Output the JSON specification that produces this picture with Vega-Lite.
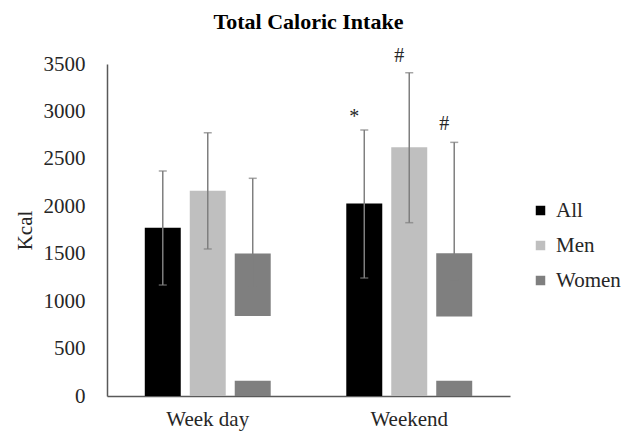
{
  "$schema": "https://vega.github.io/schema/vega-lite/v6.json",
  "width": 403,
  "height": 332,
  "autosize": {"type": "none"},
  "padding": {"left": 107, "top": 64, "right": 113, "bottom": 44},
  "background": "white",
  "title": {
    "text": "Total Caloric Intake",
    "font": "Liberation Serif",
    "fontSize": 22,
    "fontWeight": "bold",
    "color": "#000000",
    "anchor": "middle",
    "offset": 12
  },
  "config": {
    "view": {"stroke": null},
    "font": "Liberation Serif",
    "legend": {"labelFont": "Liberation Serif, Times New Roman, serif", "labelFontWeight": "normal"}
  },
  "datasets": {
    "bars": [
      {"period": "Week day", "group": "All", "lo": 0, "hi": 1775},
      {"period": "Week day", "group": "Men", "lo": 0, "hi": 2165},
      {"period": "Week day", "group": "Women", "lo": 0, "hi": 160},
      {"period": "Week day", "group": "Women", "lo": 843, "hi": 1502},
      {"period": "Weekend", "group": "All", "lo": 0, "hi": 2030},
      {"period": "Weekend", "group": "Men", "lo": 0, "hi": 2622},
      {"period": "Weekend", "group": "Women", "lo": 0, "hi": 160},
      {"period": "Weekend", "group": "Women", "lo": 838, "hi": 1504}
    ],
    "errors": [
      {"period": "Week day", "group": "All", "elo": 1170, "ehi": 2372},
      {"period": "Week day", "group": "Men", "elo": 1550, "ehi": 2775},
      {"period": "Week day", "group": "Women", "elo": 1150, "ehi": 2295},
      {"period": "Weekend", "group": "All", "elo": 1244, "ehi": 2804},
      {"period": "Weekend", "group": "Men", "elo": 1827, "ehi": 3408},
      {"period": "Weekend", "group": "Women", "elo": 1223, "ehi": 2674}
    ],
    "notes": [
      {"period": "Weekend", "group": "All", "pos": 2880, "note": "*"},
      {"period": "Weekend", "group": "Men", "pos": 3520, "note": "#"},
      {"period": "Weekend", "group": "Women", "pos": 2805, "note": "#"}
    ]
  },
  "encoding": {
    "x": {
      "field": "period",
      "type": "nominal",
      "sort": ["Week day", "Weekend"],
      "scale": {"paddingInner": 0, "paddingOuter": 0},
      "axis": {
        "title": null,
        "labelAngle": 0,
        "labelFont": "Liberation Serif",
        "labelFontSize": 21,
        "labelColor": "#262626",
        "labelPadding": 12,
        "ticks": false,
        "domainColor": "#595959",
        "domainWidth": 1.5
      }
    },
    "xOffset": {
      "field": "group",
      "type": "nominal",
      "sort": ["All", "Men", "Women"],
      "scale": {"paddingInner": 0.2, "paddingOuter": 0.84}
    }
  },
  "layer": [
    {
      "data": {"name": "bars"},
      "mark": {"type": "bar"},
      "encoding": {
        "y": {
          "field": "lo",
          "type": "quantitative",
          "scale": {"domain": [0, 3500], "nice": false},
          "axis": {
            "title": "Kcal",
            "titleFont": "Liberation Serif",
            "titleFontSize": 21,
            "titleFontWeight": "normal",
            "titleColor": "#262626",
            "titlePadding": 8,
            "values": [0, 500, 1000, 1500, 2000, 2500, 3000, 3500],
            "format": "d",
            "labelFont": "Liberation Serif",
            "labelFontSize": 21,
            "labelColor": "#262626",
            "labelPadding": 22,
            "ticks": false,
            "grid": false,
            "domainColor": "#595959",
            "domainWidth": 1.5
          }
        },
        "y2": {"field": "hi"},
        "color": {
          "field": "group",
          "type": "nominal",
          "scale": {"domain": ["All", "Men", "Women"], "range": ["#000000", "#bfbfbf", "#7f7f7f"]},
          "legend": {
            "title": null,
            "orient": "none",
            "legendX": 423,
            "legendY": 136,
            "symbolType": "square",
            "symbolSize": 90,
            "symbolStrokeWidth": 0,
            "labelFontSize": 21,
            "labelColor": "#262626",
            "labelOffset": 5,
            "labelLimit": 200,
            "rowPadding": 13
          }
        }
      }
    },
    {
      "data": {"name": "errors"},
      "mark": {"type": "rule", "color": "#7f7f7f", "strokeWidth": 1.5},
      "encoding": {
        "y": {"field": "elo", "type": "quantitative"},
        "y2": {"field": "ehi"}
      }
    },
    {
      "data": {"name": "errors"},
      "mark": {"type": "tick", "color": "#7f7f7f", "thickness": 1.5, "size": 8, "orient": "horizontal"},
      "encoding": {
        "y": {"field": "elo", "type": "quantitative"}
      }
    },
    {
      "data": {"name": "errors"},
      "mark": {"type": "tick", "color": "#7f7f7f", "thickness": 1.5, "size": 8, "orient": "horizontal"},
      "encoding": {
        "y": {"field": "ehi", "type": "quantitative"}
      }
    },
    {
      "data": {"name": "notes"},
      "mark": {"type": "text", "font": "Liberation Serif", "fontSize": 20, "color": "#262626", "baseline": "alphabetic", "dx": -10},
      "encoding": {
        "y": {"field": "pos", "type": "quantitative"},
        "text": {"field": "note"}
      }
    }
  ]
}
